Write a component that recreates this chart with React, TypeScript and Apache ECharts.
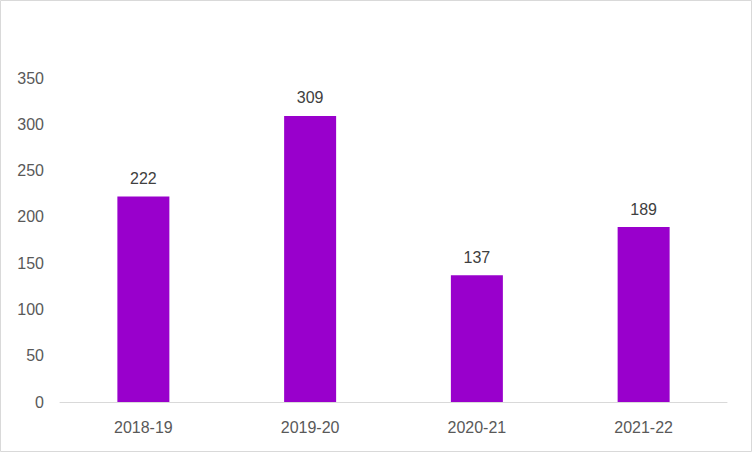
import React, { useEffect, useRef } from "react";
import * as echarts from "echarts";

const categories = ["2018-19", "2019-20", "2020-21", "2021-22"];
const values = [222, 309, 137, 189];
const yTicks = { min: 0, max: 350, interval: 50 };

export default function App() {
  const ref = useRef<HTMLDivElement>(null);
  useEffect(() => {
    document.body.style.margin = "0";
    const chart = echarts.init(ref.current!, null, { renderer: "svg" });
    const font = "'Liberation Sans', Arial, sans-serif";
    chart.setOption({
      animation: false,
      backgroundColor: "#ffffff",
      graphic: [
        {
          type: "rect",
          shape: { x: 0.5, y: 0.5, width: 751, height: 451 },
          style: { fill: "none", stroke: "#d9d9d9", lineWidth: 1 },
          silent: true,
        },
      ],
      grid: { left: 60, right: 25, top: 78, bottom: 50, containLabel: false },
      xAxis: {
        type: "category",
        data: categories,
        axisLine: { show: true, lineStyle: { color: "#d9d9d9", width: 1 } },
        axisTick: { show: false },
        axisLabel: { color: "#595959", fontSize: 16, fontFamily: font, margin: 17 },
      },
      yAxis: {
        type: "value",
        min: yTicks.min,
        max: yTicks.max,
        interval: yTicks.interval,
        axisLine: { show: false },
        axisTick: { show: false },
        splitLine: { show: false },
        axisLabel: { color: "#595959", fontSize: 16, fontFamily: font, margin: 16 },
      },
      series: [
        {
          type: "bar",
          data: values,
          barWidth: 52,
          itemStyle: { color: "#9900CC" },
          label: {
            show: true,
            position: "top",
            distance: 10,
            color: "#404040",
            fontSize: 16,
            fontFamily: font,
          },
        },
      ],
    });
    return () => chart.dispose();
  }, []);
  return <div ref={ref} style={{ width: 752, height: 452 }} />;
}
